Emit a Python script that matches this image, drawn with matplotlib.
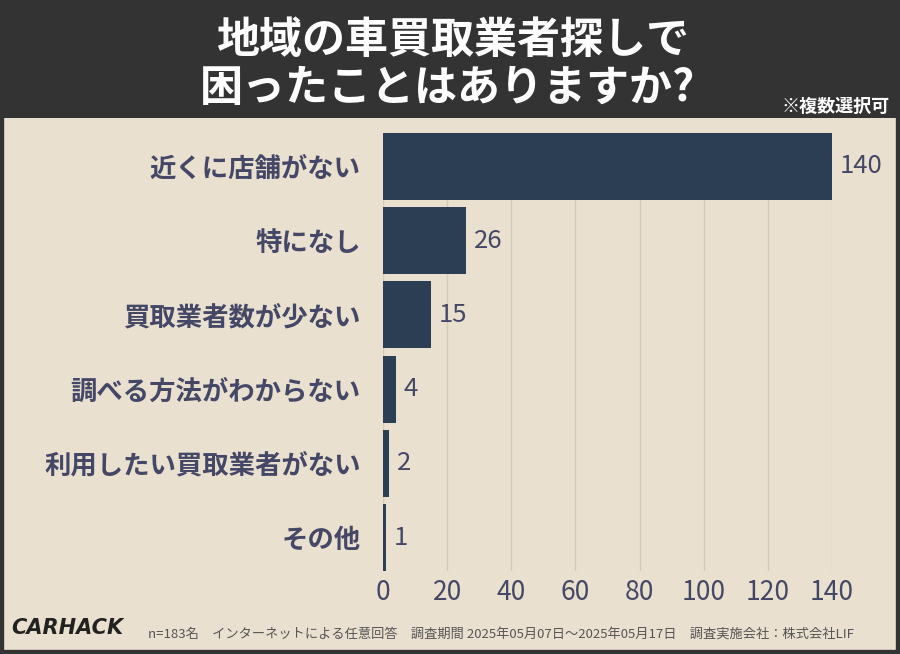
import matplotlib
matplotlib.use("Agg")
import matplotlib.pyplot as plt
from matplotlib.patches import Rectangle

plt.rcParams["font.family"] = ["Noto Sans CJK JP"]

categories = ["近くに店舗がない", "特になし", "買取業者数が少ない", "調べる方法がわからない",
              "利用したい買取業者がない", "その他"]
values = [140, 26, 15, 4, 2, 1]
xticks = [0, 20, 40, 60, 80, 100, 120, 140]

BG = "#e9e0cf"
BAR = "#2b3e53"
TXT = "#454766"

fig = plt.figure(figsize=(9, 6.54), dpi=100, facecolor=BG)
# dark border and title band
fig.patches.append(Rectangle((0, 0), 1, 1, transform=fig.transFigure, fill=False,
                             edgecolor="#333333", linewidth=6))
fig.patches.append(Rectangle((0, 1 - 118 / 654), 1, 118 / 654, transform=fig.transFigure,
                             facecolor="#333333", edgecolor="none"))
fig.text(0.503, 1 - 40 / 654, "地域の車買取業者探しで", color="white", fontsize=31,
         fontweight="bold", ha="center", va="center")
fig.text(0.497, 1 - 88 / 654, "困ったことはありますか?", color="white", fontsize=31,
         fontweight="bold", ha="center", va="center")
fig.text(0.988, 1 - 106 / 654, "※複数選択可", color="white", fontsize=13,
         fontweight="bold", ha="right", va="center")

ax = fig.add_axes([383 / 900, 1 - 571 / 654, (832 - 383) / 900, 438 / 654])
ax.set_facecolor(BG)
y = range(len(categories))
ax.barh(y, values, height=0.9, color=BAR)
for i, v in enumerate(values):
    ax.text(v + 2.5, i, str(v), va="center", ha="left", fontsize=18.5, color=TXT)
ax.set_xlim(0, 140)
ax.set_ylim(len(categories) - 0.55, -0.45)
ax.set_xticks(xticks)
ax.set_xticklabels([str(t) for t in xticks], fontsize=19, color=TXT)
ax.set_yticks(list(y))
ax.set_yticklabels(categories, fontsize=19, color=TXT, fontweight="bold")
ax.grid(axis="x", color="#d3cab9", linewidth=1)
ax.set_axisbelow(True)
for s in ax.spines.values():
    s.set_visible(False)
ax.tick_params(length=0, pad=6)
ax.tick_params(axis="y", pad=16)

fig.text(0.012, 1 - 628 / 654, "CARHACK", fontsize=15, fontweight="bold", fontstyle="italic",
         color="#222222", va="center", family="DejaVu Sans")
fig.text(148 / 900, 1 - 634 / 654,
         "n=183名　インターネットによる任意回答　調査期間 2025年05月07日～2025年05月17日　調査実施会社：株式会社LIF",
         fontsize=9.5, color="#555555", va="center")

fig.savefig("out.png", dpi=100, facecolor=BG)
